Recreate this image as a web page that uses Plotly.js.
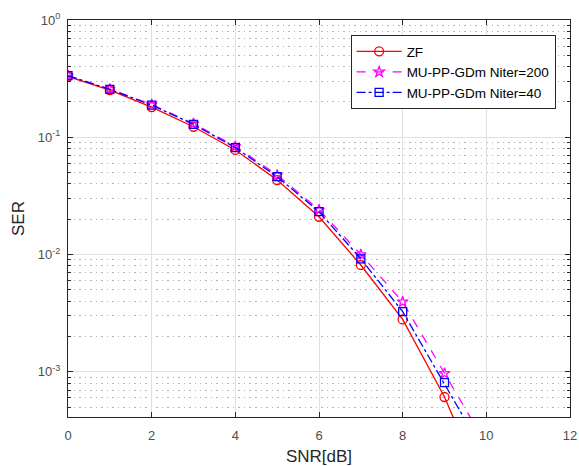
<!DOCTYPE html>
<html>
<head>
<meta charset="utf-8">
<script src="https://cdn.plot.ly/plotly-3.0.1.min.js"></script>
<style>html,body{margin:0;padding:0;background:#fff;}#chart{width:579px;height:466px;}</style>
</head>
<body>
<div id="chart"></div>
<script>
const snr = [0, 1, 2, 3, 4, 5, 6, 7, 8, 9, 10];
const serZF = [0.330, 0.252, 0.181, 0.123, 0.078, 0.0432, 0.0210, 0.00815, 0.00280, 0.00061, 0.00009];
const serN200 = [0.336, 0.258, 0.190, 0.131, 0.0835, 0.0476, 0.0241, 0.0100, 0.00395, 0.00097, 0.00024];
const serN40 = [0.335, 0.256, 0.188, 0.129, 0.0816, 0.0461, 0.0232, 0.0092, 0.00326, 0.00081, 0.00019];
const yTickVals = [0.001, 0.01, 0.1, 1];
const yTickText = ['10<sup>-3</sup>', '10<sup>-2</sup>', '10<sup>-1</sup>', '10<sup>0</sup>'];
const yMinorVals = [];
[0.0001, 0.001, 0.01, 0.1].forEach(d => { for (let k = 2; k <= 9; k++) yMinorVals.push(d * k); });

const FAM = 'Liberation Sans, Arial, sans-serif';

const traces = [
  {x: snr, y: serZF, name: 'ZF', mode: 'lines+markers',
   line: {color: '#ff0000', width: 1.3, dash: 'solid'},
   marker: {symbol: 'circle-open', size: 9, color: '#ff0000', line: {width: 1.3}}},
  {x: snr, y: serN200, name: 'MU-PP-GDm Niter=200', mode: 'lines+markers',
   line: {color: '#ff00ff', width: 1.3, dash: 'dash'},
   marker: {symbol: 'star-open', size: 8, color: '#ff00ff', line: {width: 1.3}}},
  {x: snr, y: serN40, name: 'MU-PP-GDm Niter=40', mode: 'lines+markers',
   line: {color: '#0000ff', width: 1.3, dash: 'dashdot'},
   marker: {symbol: 'square-open', size: 8, color: '#0000ff', line: {width: 1.3}}}
];

const layout = {
  width: 579, height: 466,
  margin: {l: 68, r: 9, t: 20, b: 49},
  paper_bgcolor: '#ffffff', plot_bgcolor: '#ffffff',
  font: {family: FAM, size: 13, color: '#262626'},
  showlegend: true,
  legend: {x: 0.563, y: 0.962, xanchor: 'left', yanchor: 'top',
    bgcolor: '#ffffff', bordercolor: '#262626', borderwidth: 1,
    font: {family: FAM, size: 13.5, color: '#000000'},
    itemwidth: 45, tracegroupgap: 0},
  xaxis: {
    range: [0, 12], tickmode: 'linear', tick0: 0, dtick: 2,
    showgrid: true, gridcolor: '#e0e0e0', gridwidth: 1,
    zeroline: false, showline: true, linecolor: '#262626', linewidth: 1, mirror: 'ticks',
    ticks: 'inside', ticklen: 5, tickcolor: '#262626', ticklabelstandoff: 6,
    tickfont: {family: FAM, size: 13, color: '#4d4d4d'},
    title: {text: 'SNR[dB]', standoff: 9, font: {family: FAM, size: 17, color: '#262626'}}
  },
  yaxis: {
    type: 'log', range: [-3.385, 0],
    tickmode: 'array', tickvals: yTickVals, ticktext: yTickText,
    showgrid: true, gridcolor: '#e0e0e0', gridwidth: 1,
    zeroline: false, showline: true, linecolor: '#262626', linewidth: 1, mirror: 'ticks',
    ticks: 'inside', ticklen: 5, tickcolor: '#262626', ticklabelstandoff: 4,
    tickfont: {family: FAM, size: 13, color: '#4d4d4d'},
    minor: {tickmode: 'array', tickvals: yMinorVals, showgrid: true, gridcolor: '#b4b4b4', griddash: '1.5px,4px', gridwidth: 1,
      ticks: 'inside', ticklen: 3, tickcolor: '#262626'},
    title: {text: 'SER', standoff: 8, font: {family: FAM, size: 17, color: '#262626'}}
  }
};

Plotly.newPlot('chart', traces, layout, {displayModeBar: false, staticPlot: true});
</script>
</body>
</html>
